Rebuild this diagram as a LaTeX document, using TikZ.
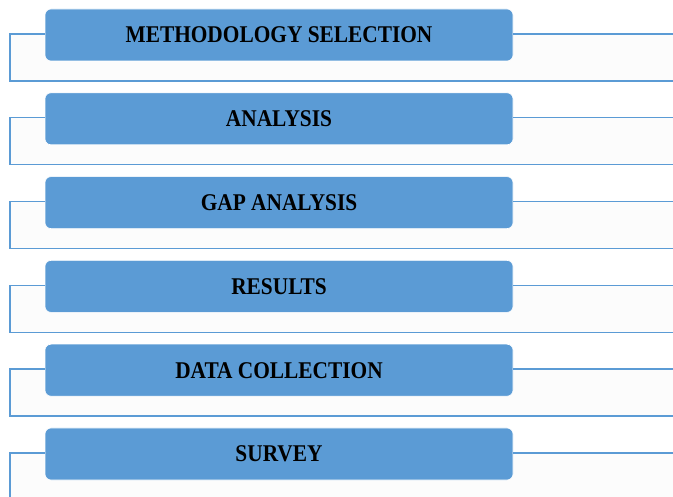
\documentclass[tikz,border=0pt]{standalone}
\usepackage{fontspec}
\setmainfont{Liberation Serif}
\definecolor{stageblue}{HTML}{5B9BD5}
\definecolor{panelgray}{HTML}{FCFCFC}
\newcommand\stagetext[1]{\scalebox{0.89}[1]{#1}}

\begin{document}
\begin{tikzpicture}[x=1pt,y=-1pt,
    stagebox/.style={draw=white, line width=0.6pt, fill=stageblue, rounded corners=6pt,
        minimum width=468pt, minimum height=52pt, inner sep=0pt,
        font=\fontsize{24}{26}\selectfont\bfseries},
    frameline/.style={draw=stageblue, line width=1.4pt}]
    \useasboundingbox (0,0) rectangle (673,497);
    \foreach \i/\txt in {0/METHODOLOGY SELECTION, 1/ANALYSIS, 2/GAP ANALYSIS,
                         3/RESULTS, 4/DATA COLLECTION, 5/SURVEY} {
        \pgfmathsetmacro{\cy}{34+83.8*\i}
        \pgfmathsetmacro{\by}{min(\cy+47,499)}
        \coordinate (l\i) at (10,\cy);
        \coordinate (r\i) at (674,\cy);
        \coordinate (lb\i) at (10,\by);
        \coordinate (rb\i) at (674,\by);
        % light panel behind each stage
        \fill [panelgray] (l\i) rectangle (rb\i);
        \node [stagebox] (s\i) at (279,\cy+1) {\stagetext{\txt}};
        \draw [frameline] (s\i.east |- r\i) -- (r\i);
        \ifnum\i<5
            \draw [frameline] (s\i.west |- l\i) -- (l\i) -- (lb\i) -- (rb\i);
        \else
            \draw [frameline] (s\i.west |- l\i) -- (l\i) -- (lb\i);
        \fi
    }
\end{tikzpicture}
\end{document}
